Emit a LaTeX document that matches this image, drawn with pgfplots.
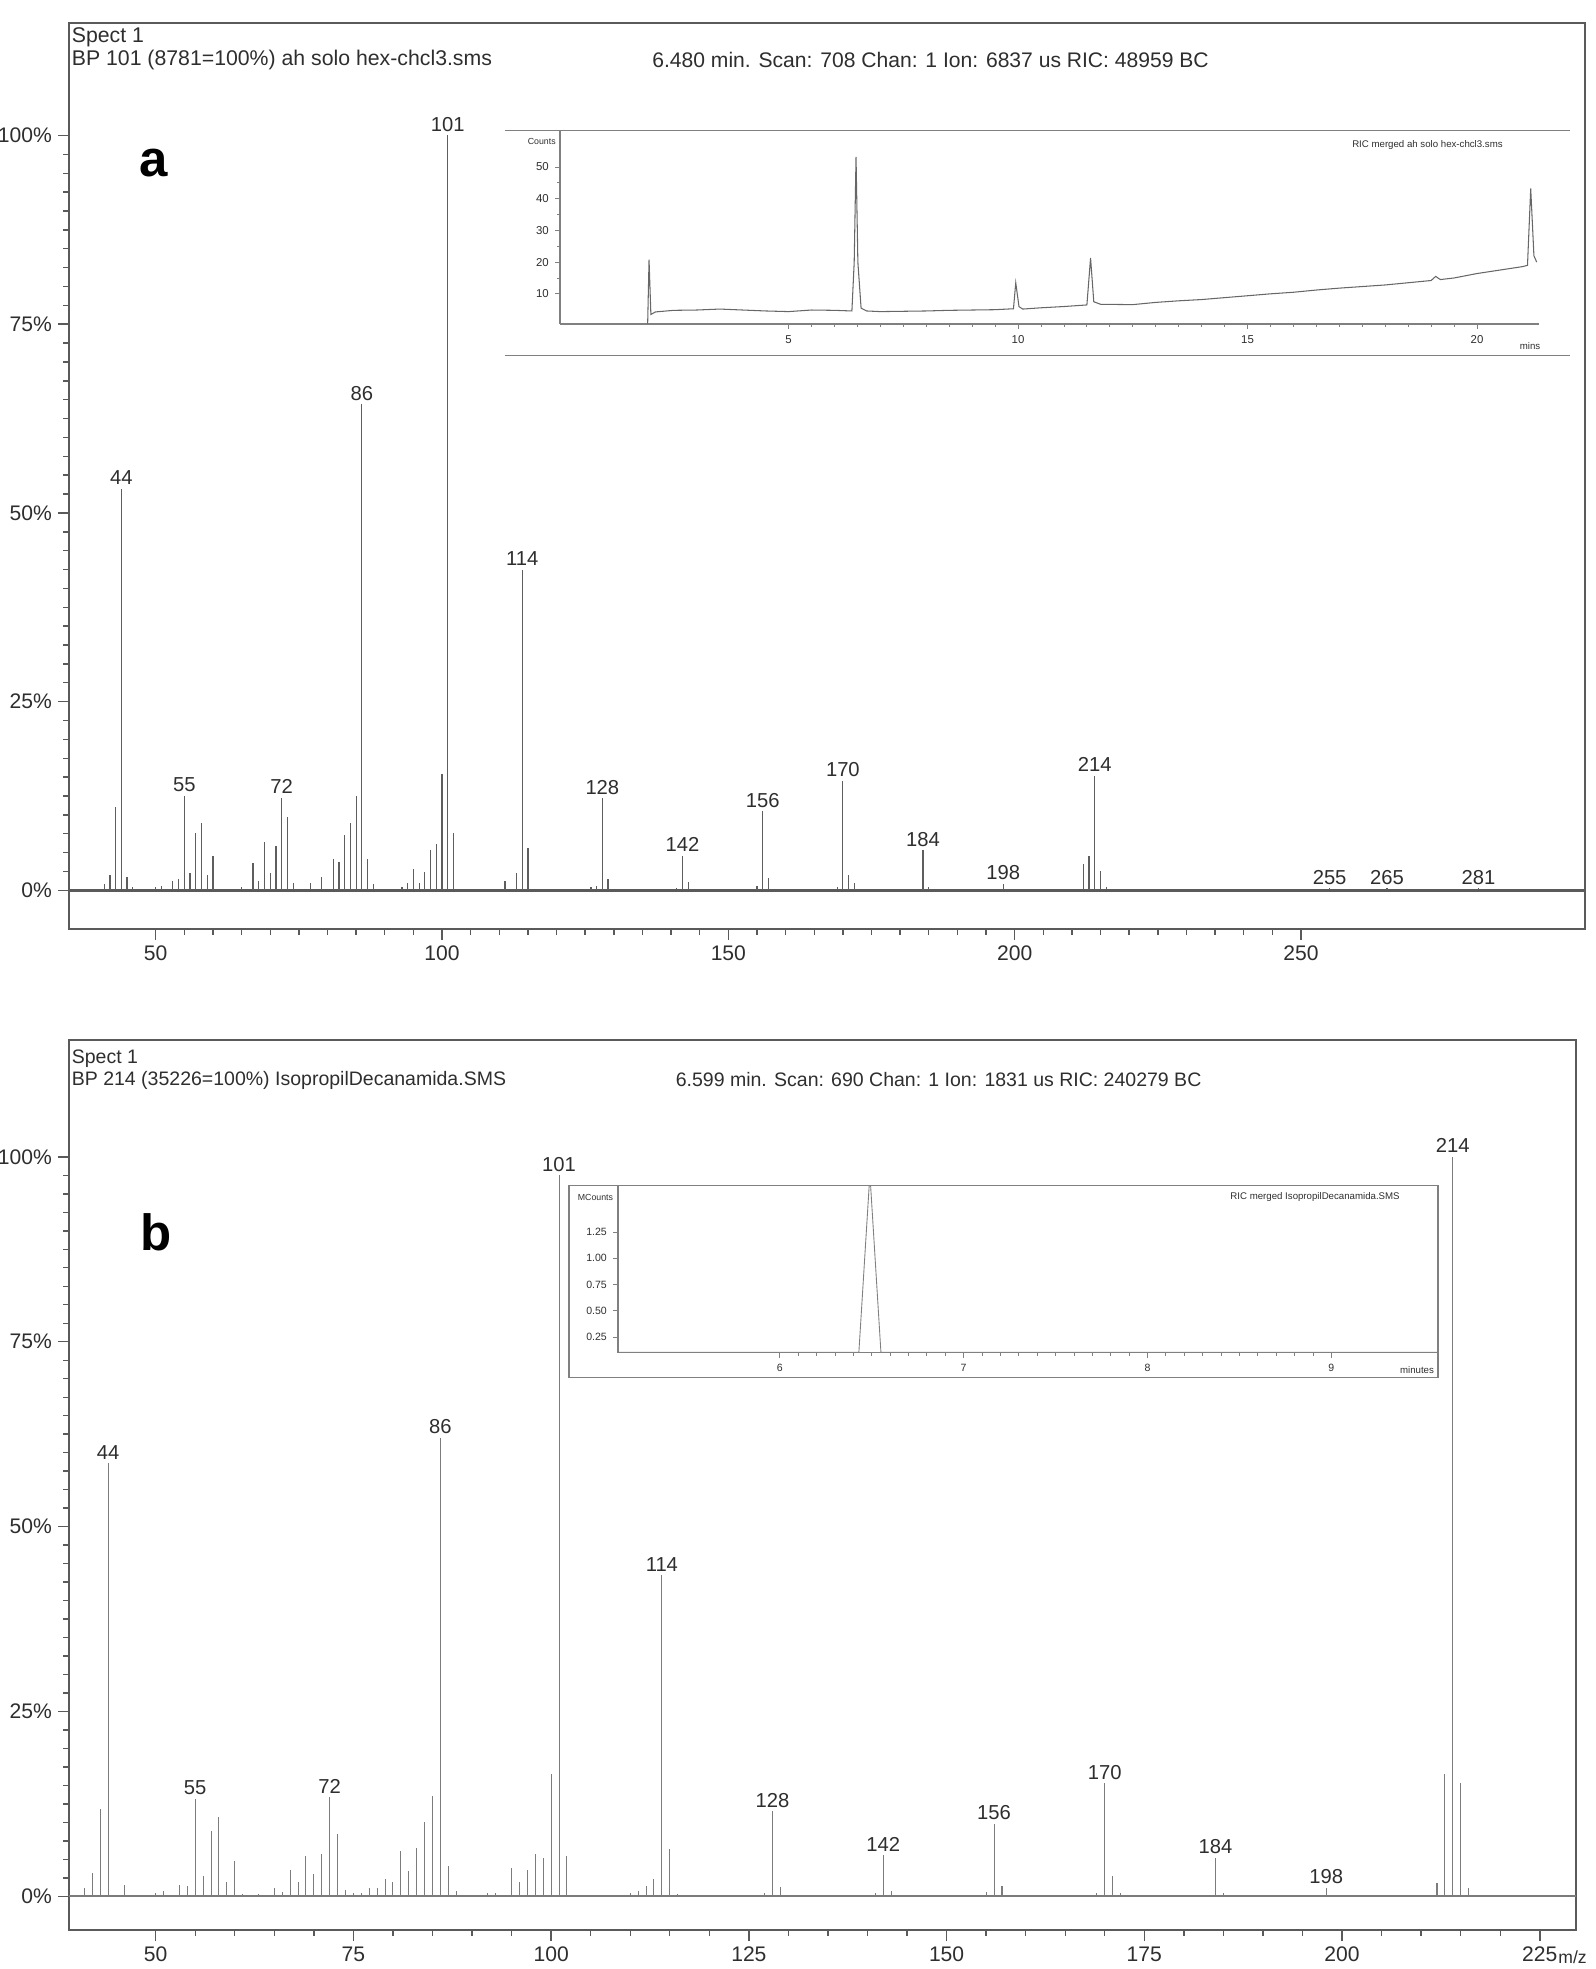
\documentclass[border=0pt]{standalone}
\usepackage{pgfplots}
\pgfplotsset{compat=1.18}
\usepackage{pgfplotstable}
\usepackage{fontspec}
\setmainfont{Liberation Sans}
\definecolor{axgray}{HTML}{5A5A5A}
\definecolor{stickA}{HTML}{5E5E5E}
\definecolor{stickB}{HTML}{7C7C7C}
\definecolor{txt}{HTML}{2E2E2E}
\definecolor{inset}{HTML}{808080}

% Panel a: m/z, relative intensity (%)
\pgfplotstableread{
mz h
41 0.8
42 2.0
43 11.0
44 53.2
45 1.8
46 0.5
50 0.5
51 0.6
53 1.3
54 1.5
55 12.5
56 2.3
57 7.6
58 8.9
59 2.0
60 4.6
65 0.5
67 3.6
68 1.3
69 6.4
70 2.3
71 5.9
72 12.3
73 9.7
74 1.0
77 1.0
79 1.8
81 4.1
82 3.8
83 7.4
84 8.9
85 12.5
86 64.4
87 4.1
88 0.8
93 0.5
94 1.0
95 2.8
96 1.0
97 2.5
98 5.3
99 6.1
100 15.4
101 100
102 7.6
111 1.3
113 2.3
114 42.5
115 5.6
126 0.5
127 0.6
128 12.2
129 1.5
141 0.3
142 4.6
143 1.1
155 0.6
156 10.5
157 1.7
169 0.4
170 14.5
171 2.0
172 1.0
184 5.3
185 0.4
198 0.9
212 3.5
213 4.6
214 15.2
215 2.6
216 0.4
255 0.3
265 0.3
281 0.3
}\specA

\pgfplotstableread{
mz h lab
44 53.2 44
55 12.5 55
72 12.3 72
86 64.4 86
101 100 101
114 42.5 114
128 12.2 128
142 4.6 142
156 10.5 156
170 14.5 170
184 5.3 184
198 0.9 198
214 15.2 214
255 0.3 255
265 0.3 265
281 0.3 281
}\labA

% Panel b
\pgfplotstableread{
mz h
41 1.1
42 3.2
43 11.8
44 58.6
46 1.6
50 0.5
51 0.7
53 1.6
54 1.4
55 13.2
56 2.7
57 8.9
58 10.7
59 2.0
60 4.8
61 0.3
63 0.3
65 1.1
66 0.6
67 3.6
68 2.0
69 5.5
70 3.0
71 5.7
72 13.4
73 8.4
74 0.9
75 0.5
76 0.4
77 1.1
78 1.1
79 2.3
80 2.0
81 6.1
82 3.4
83 6.6
84 10.0
85 13.6
86 62.0
87 4.1
88 0.7
92 0.4
93 0.5
95 3.9
96 2.0
97 3.6
98 5.7
99 5.2
100 16.6
101 97.5
102 5.5
110 0.5
111 0.8
112 1.4
113 2.3
114 43.4
115 6.4
116 0.3
127 0.5
128 11.5
129 1.3
141 0.4
142 5.6
143 0.7
155 0.6
156 9.8
157 1.4
169 0.5
170 15.3
171 2.7
172 0.4
184 5.2
185 0.5
198 1.2
212 1.8
213 16.6
214 100
215 15.4
216 1.1
}\specB

\pgfplotstableread{
mz h lab
44 58.6 44
55 13.2 55
72 13.4 72
86 62.0 86
101 97.5 101
114 43.4 114
128 11.5 128
142 5.6 142
156 9.8 156
170 15.3 170
184 5.2 184
198 1.2 198
214 100 214
}\labB

% Inset a: RIC chromatogram (time in min, counts)
\pgfplotstableread{
t c
1.93 0.6
1.96 20.8
2.00 3.5
2.10 4.3
2.50 4.8
3.00 4.9
3.50 5.2
4.00 4.9
4.50 4.6
5.00 4.4
5.50 4.9
6.00 4.8
6.38 4.6
6.43 20
6.47 53.2
6.51 20
6.58 5.5
6.70 4.6
7.00 4.4
7.50 4.5
8.00 4.6
8.50 4.8
9.00 4.9
9.50 5.0
9.90 5.3
9.95 13.5
10.02 6.0
10.10 5.2
10.50 5.6
11.00 6.0
11.50 6.5
11.58 21.3
11.65 7.5
11.80 6.7
12.50 6.6
13.00 7.3
13.50 7.8
14.00 8.2
14.50 8.8
15.00 9.4
15.50 10.0
16.00 10.5
16.50 11.2
17.00 11.8
17.50 12.3
18.00 12.8
18.50 13.5
19.00 14.2
19.10 15.5
19.20 14.5
19.50 15.0
20.00 16.4
20.50 17.5
21.00 18.6
21.10 19.0
21.17 43.2
21.24 22.0
21.30 20.0
}\ricA

% Inset b: RIC chromatogram (time in min, MCounts)
\pgfplotstableread{
t c
5.12 0.105
6.43 0.105
6.49 1.80
6.55 0.105
9.58 0.105
}\ricB

\begin{document}
\begin{tikzpicture}[x=1cm,y=1cm]
\useasboundingbox (0,0) rectangle (31.9,39.38);

% ---------------- Panel a ----------------
\begin{axis}[
  at={(1.38cm,20.8cm)}, anchor=south west, scale only axis,
  width=30.32cm, height=18.12cm,
  xmin=34.86, xmax=299.6, ymin=-5.11, ymax=114.9,
  axis line style={axgray, line width=0.9pt},
  xtick={50,100,150,200,250}, xticklabels={50,100,150,200,250},
  minor x tick num=9,
  ytick={0,25,50,75,100}, yticklabels={0\%,25\%,50\%,75\%,100\%},
  minor y tick num=9,
  xtick pos=bottom, ytick pos=left,
  tick align=outside,
  major tick length=0.22cm, minor tick length=0.12cm,
  tick style={axgray, line width=0.8pt},
  ticklabel style={font=\fontsize{12}{14}\selectfont, text=txt},
]
\draw[axgray, line width=1.3pt] (axis cs:34.86,0) -- (axis cs:299.6,0);
\addplot[ycomb, stickA, line width=0.7pt, mark=none] table[x=mz,y=h] {\specA};
\addplot[draw=none, mark=none, nodes near coords, point meta=explicit symbolic,
  nodes near coords style={font=\fontsize{11.5}{13}\selectfont, text=txt, anchor=south, inner sep=2pt}]
  table[x=mz,y=h,meta=lab] {\labA};
\end{axis}

% Inset a
\draw[inset, line width=0.6pt] (10.1,36.77) -- (31.4,36.77);
\draw[inset, line width=0.6pt] (10.1,32.27) -- (31.4,32.27);
\begin{axis}[
  at={(11.2cm,32.9cm)}, anchor=south west, scale only axis,
  width=19.57cm, height=3.87cm,
  xmin=0.02, xmax=21.34, ymin=0.5, ymax=61.5,
  axis x line=bottom, axis y line=left,
  axis line style={inset, line width=0.6pt, -},
  xtick={5,10,15,20}, xticklabels={5,10,15,20}, minor x tick num=9,
  ytick={10,20,30,40,50}, yticklabels={10,20,30,40,50}, minor y tick num=1,
  tick align=outside,
  major tick length=0.1cm, minor tick length=0.06cm,
  tick style={inset, line width=0.5pt},
  ticklabel style={font=\fontsize{6.5}{7}\selectfont, text=txt},
]
\addplot[inset!80!black, line width=0.6pt, mark=none] table[x=t,y=c] {\ricA};
\end{axis}
\node[anchor=west, inner sep=0, font=\fontsize{5}{6}\selectfont, text=txt] at (10.55,36.54) {Counts};
\node[anchor=east, inner sep=0, font=\fontsize{5.5}{6}\selectfont, text=txt] at (30.06,36.47) {RIC merged ah solo hex-chcl3.sms};
\node[anchor=center, inner sep=0, font=\fontsize{5.5}{6}\selectfont, text=txt] at (30.6,32.45) {mins};

% ---------------- Panel b ----------------
\begin{axis}[
  at={(1.38cm,0.78cm)}, anchor=south west, scale only axis,
  width=30.14cm, height=17.8cm,
  xmin=39.04, xmax=229.58, ymin=-4.54, ymax=115.8,
  axis line style={axgray, line width=0.9pt},
  xtick={50,75,100,125,150,175,200,225}, xticklabels={50,75,100,125,150,175,200,225},
  minor x tick num=4,
  ytick={0,25,50,75,100}, yticklabels={0\%,25\%,50\%,75\%,100\%},
  minor y tick num=9,
  xtick pos=bottom, ytick pos=left,
  tick align=outside,
  major tick length=0.22cm, minor tick length=0.12cm,
  tick style={axgray, line width=0.8pt},
  ticklabel style={font=\fontsize{12}{14}\selectfont, text=txt},
]
\draw[axgray!80, line width=1.2pt] (axis cs:39.04,0) -- (axis cs:229.58,0);
\addplot[ycomb, stickB, line width=0.6pt, mark=none] table[x=mz,y=h] {\specB};
\addplot[draw=none, mark=none, nodes near coords, point meta=explicit symbolic,
  nodes near coords style={font=\fontsize{11.5}{13}\selectfont, text=txt, anchor=south, inner sep=2pt}]
  table[x=mz,y=h,meta=lab] {\labB};
\end{axis}

% Inset b
\draw[inset, line width=0.6pt] (11.38,11.826) rectangle (28.76,15.668);
\begin{axis}[
  at={(12.36cm,12.328cm)}, anchor=south west, scale only axis,
  width=16.4cm, height=3.34cm,
  xmin=5.12, xmax=9.58, ymin=0.103, ymax=1.691,
  axis x line=bottom, axis y line=left,
  axis line style={inset, line width=0.6pt, -},
  xtick={6,7,8,9}, xticklabels={6,7,8,9}, minor x tick num=9,
  ytick={0.25,0.5,0.75,1,1.25}, yticklabels={0.25,0.50,0.75,1.00,1.25},
  tick align=outside,
  major tick length=0.1cm, minor tick length=0.06cm,
  tick style={inset, line width=0.5pt},
  ticklabel style={font=\fontsize{6}{7}\selectfont, text=txt},
]
\addplot[inset, line width=0.5pt, mark=none] table[x=t,y=c] {\ricB};
\end{axis}
\node[anchor=west, inner sep=0, font=\fontsize{5}{6}\selectfont, text=txt] at (11.55,15.44) {MCounts};
\node[anchor=east, inner sep=0, font=\fontsize{5.5}{6}\selectfont, text=txt] at (28.0,15.44) {RIC merged IsopropilDecanamida.SMS};
\node[anchor=center, inner sep=0, font=\fontsize{5.5}{6}\selectfont, text=txt] at (28.34,11.98) {minutes};

% ---------------- Headers and panel letters ----------------
\node[anchor=west, inner sep=0, font=\fontsize{12.1}{14}\selectfont, text=txt] at (1.43,38.626) {Spect 1};
\node[anchor=west, inner sep=0, font=\fontsize{12.1}{14}\selectfont, text=txt] at (1.43,38.174) {BP 101 (8781=100\%) ah solo hex-chcl3.sms};
\node[anchor=west, inner sep=0, font=\fontsize{12.0}{14}\selectfont, text=txt] at (13.04,38.174) {6.480 min. Scan: 708 Chan: 1 Ion: 6837 us RIC: 48959 BC};
\node[font=\fontsize{29}{32}\selectfont\bfseries] at (3.064,36.114) {a};

\node[anchor=west, inner sep=0, font=\fontsize{11.1}{13}\selectfont, text=txt] at (1.43,18.206) {Spect 1};
\node[anchor=west, inner sep=0, font=\fontsize{11.1}{13}\selectfont, text=txt] at (1.43,17.78) {BP 214 (35226=100\%) IsopropilDecanamida.SMS};
\node[anchor=west, inner sep=0, font=\fontsize{11.1}{13}\selectfont, text=txt] at (13.51,17.78) {6.599 min. Scan: 690 Chan: 1 Ion: 1831 us RIC: 240279 BC};
\node[font=\fontsize{29}{32}\selectfont\bfseries] at (3.114,14.74) {b};

\node[anchor=west, inner sep=0, font=\fontsize{10}{12}\selectfont, text=txt] at (31.16,0.24) {m/z};
\end{tikzpicture}
\end{document}
